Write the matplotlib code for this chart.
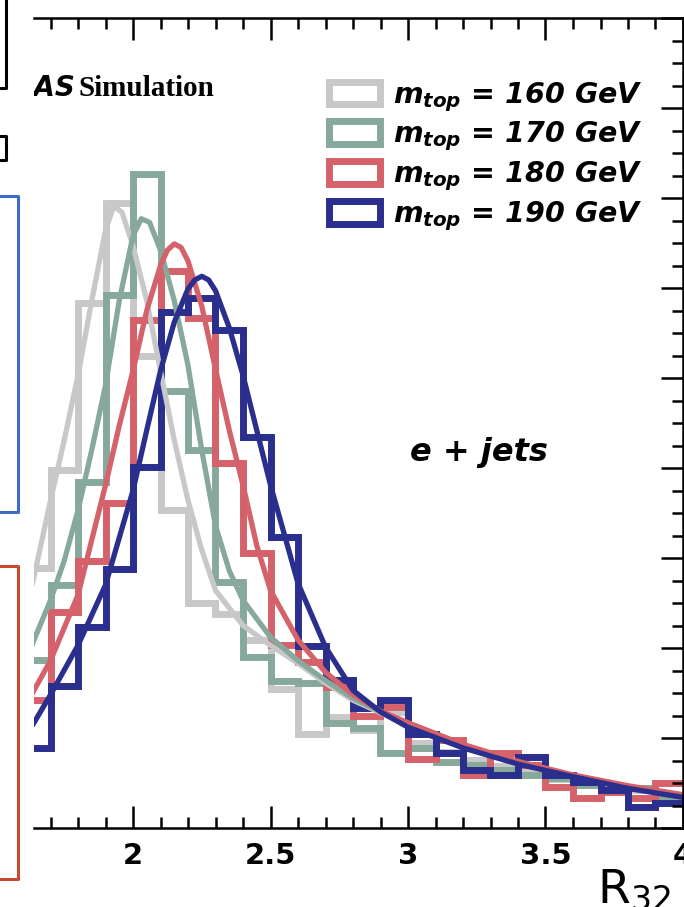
import numpy as np
import matplotlib.pyplot as plt
from matplotlib.patches import Patch
from matplotlib.lines import Line2D
from matplotlib.ticker import MultipleLocator

plt.rcParams['font.family'] = ['DejaVu Sans']
plt.rcParams['mathtext.fontset'] = 'custom'
plt.rcParams['mathtext.rm'] = 'DejaVu Sans'
plt.rcParams['mathtext.it'] = 'DejaVu Sans:italic:bold'
plt.rcParams['mathtext.bf'] = 'DejaVu Sans:bold'

# histogram bins (R32), width 0.1 from 1.6 to 4.0
edges = np.round(np.arange(16, 41) / 10, 1)

# bin contents (arbitrary units, one unit per major y tick)
hist_160 = [2.89, 3.98, 5.83, 6.94, 5.25, 3.53, 2.50, 2.38, 2.09, 1.55, 1.05, 1.23,
            1.09, 1.29, 0.95, 0.84, 0.76, 0.69, 0.64, 0.55, 0.50, 0.44, 0.42, 0.37]
hist_170 = [1.87, 2.70, 3.84, 5.92, 7.27, 4.86, 4.20, 2.73, 1.90, 1.63, 1.61, 1.17,
            1.11, 0.83, 0.89, 0.73, 0.70, 0.64, 0.59, 0.56, 0.48, 0.42, 0.44, 0.34]
hist_180 = [1.42, 2.40, 2.97, 3.61, 5.64, 6.19, 5.67, 4.06, 3.06, 2.03, 1.84, 1.57,
            1.25, 1.34, 0.77, 0.98, 0.59, 0.83, 0.70, 0.46, 0.33, 0.40, 0.33, 0.50]
hist_190 = [0.89, 1.58, 2.23, 2.88, 4.01, 5.73, 5.89, 5.53, 4.34, 3.23, 2.02, 1.64,
            1.33, 1.42, 1.04, 0.83, 0.64, 0.59, 0.79, 0.59, 0.51, 0.42, 0.23, 0.28]

# fitted template curves
fit_x_160 = [1.60, 1.64, 1.70, 1.75, 1.80, 1.85, 1.90, 1.93, 1.96, 2.00, 2.05, 2.10, 2.15,
             2.20, 2.25, 2.30, 2.40, 2.50, 2.60, 2.70, 2.80, 2.90, 3.00, 3.20, 3.40, 3.60,
             3.80, 4.00]
fit_y_160 = [2.31, 2.79, 3.64, 4.31, 5.03, 5.86, 6.64, 6.91, 6.84, 6.47, 5.86, 5.08, 4.31,
             3.64, 3.09, 2.64, 2.25, 2.03, 1.83, 1.61, 1.42, 1.28, 1.15, 0.92, 0.73, 0.58,
             0.46, 0.36]
fit_x_170 = [1.60, 1.64, 1.70, 1.75, 1.80, 1.85, 1.90, 1.95, 2.00, 2.03, 2.06, 2.10, 2.15,
             2.20, 2.25, 2.30, 2.35, 2.40, 2.50, 2.60, 2.70, 2.80, 2.90, 3.00, 3.20, 3.40,
             3.60, 3.80, 4.00]
fit_y_170 = [1.75, 2.09, 2.53, 2.97, 3.53, 4.20, 4.92, 5.86, 6.58, 6.77, 6.73, 6.42, 5.86,
             5.14, 4.20, 3.36, 2.86, 2.53, 2.12, 1.86, 1.64, 1.44, 1.29, 1.15, 0.92, 0.73,
             0.58, 0.46, 0.36]
fit_x_180 = [1.60, 1.64, 1.70, 1.80, 1.90, 1.95, 2.00, 2.05, 2.10, 2.125, 2.15, 2.175, 2.20,
             2.25, 2.30, 2.35, 2.40, 2.45, 2.50, 2.60, 2.70, 2.80, 2.90, 3.00, 3.20, 3.40,
             3.60, 3.80, 4.00]
fit_y_180 = [1.31, 1.53, 1.86, 2.59, 3.81, 4.47, 5.08, 5.75, 6.25, 6.42, 6.49, 6.45, 6.30,
             5.80, 5.10, 4.42, 3.81, 3.14, 2.64, 2.09, 1.73, 1.48, 1.30, 1.17, 0.93, 0.74,
             0.59, 0.47, 0.37]
fit_x_190 = [1.60, 1.64, 1.70, 1.80, 1.90, 2.00, 2.05, 2.10, 2.15, 2.20, 2.225, 2.25, 2.275,
             2.30, 2.35, 2.40, 2.45, 2.50, 2.60, 2.70, 2.80, 2.90, 3.00, 3.20, 3.40, 3.60,
             3.80, 4.00]
fit_y_190 = [0.98, 1.17, 1.48, 2.03, 2.70, 3.75, 4.42, 5.08, 5.62, 5.99, 6.09, 6.13, 6.09,
             5.97, 5.56, 5.03, 4.42, 3.81, 2.72, 2.01, 1.53, 1.29, 1.12, 0.89, 0.71, 0.57,
             0.44, 0.34]

labels = [r'$m_{top}$ = 160 GeV', r'$m_{top}$ = 170 GeV',
          r'$m_{top}$ = 180 GeV', r'$m_{top}$ = 190 GeV']
colors = ['#c8c8c8', '#87a99b', '#d5616a', '#2a2e8c']
hists = [hist_160, hist_170, hist_180, hist_190]
fits = [(fit_x_160, fit_y_160), (fit_x_170, fit_y_170),
        (fit_x_180, fit_y_180), (fit_x_190, fit_y_190)]

xtick_vals = [2, 2.5, 3, 3.5, 4]
xtick_labels = ['2', '2.5', '3', '3.5', '4']

W, H = 684, 907
def fx(px):
    return px / W
def fy(py):
    return 1 - py / H

fig = plt.figure(figsize=(W / 100, H / 100), dpi=100)
ax = fig.add_axes([fx(34), fy(828), fx(649), 810 / H])

for h, (cx, cy), c in zip(hists, fits, colors):
    ax.stairs(h, edges, baseline=None, color=c, lw=5)
    ax.plot(cx, cy, color=c, lw=3.8, solid_joinstyle='round')

ax.set_xlim(1.64, 4.0)
ax.set_ylim(0, 9.0)
ax.spines['left'].set_visible(False)
for s in ['top', 'right', 'bottom']:
    ax.spines[s].set_linewidth(1.8)
ax.set_xticks(xtick_vals, xtick_labels)
ax.xaxis.set_minor_locator(MultipleLocator(0.1))
ax.yaxis.set_major_locator(MultipleLocator(1))
ax.yaxis.set_minor_locator(MultipleLocator(0.25))
ax.tick_params(which='both', direction='in', top=True, right=True, left=False,
               labelleft=False, width=1.8)
ax.tick_params(which='major', length=16)
ax.tick_params(which='minor', length=8)
ax.tick_params(axis='x', labelsize=21, pad=10)
for t in ax.get_xticklabels():
    t.set_fontweight('bold')

# legend with open boxes
handles = [Patch(facecolor='white', edgecolor=c, linewidth=5, joinstyle='round')
           for c in colors]
ax.legend(handles, labels, loc='upper left', bbox_to_anchor=(fx(329), fy(80)),
          bbox_transform=fig.transFigure, frameon=False,
          prop=dict(family='DejaVu Sans', weight='bold', style='italic', size=20.5),
          handlelength=1.8, handleheight=0.85, handletextpad=0.45,
          labelspacing=0.22, borderpad=0, borderaxespad=0)

# cropped "ATLAS Simulation" label
ax.text(fx(76), fy(88), 'ATLAS', transform=fig.transFigure, ha='right', va='center',
        fontsize=20, fontweight='bold', style='italic', clip_on=True)
fig.text(fx(79), fy(88), 'Simulation', ha='left', va='center', fontsize=21,
         fontweight='bold', family='Liberation Serif')
fig.text(fx(410), fy(452), 'e + jets', ha='left', va='center', fontsize=23,
         fontweight='bold', style='italic')
fig.text(fx(597), fy(903), r'R$_{\mathrm{32}}$', ha='left', va='baseline', fontsize=34)

# edges of neighbouring panels at the left
def seg(xs, ys, c, lw=2.2):
    fig.add_artist(Line2D([fx(v) for v in xs], [fy(v) for v in ys], color=c, lw=lw,
                          transform=fig.transFigure))

seg([6, 6, 0], [0, 88, 88], 'black')
seg([0, 6, 6, 0], [136, 136, 160, 160], 'black')
seg([0, 18, 18, 0], [196, 196, 512, 512], '#3c6cc8')
seg([0, 18, 18, 0], [566, 566, 879, 879], '#c84a2c')

fig.savefig('out.png', dpi=100)
